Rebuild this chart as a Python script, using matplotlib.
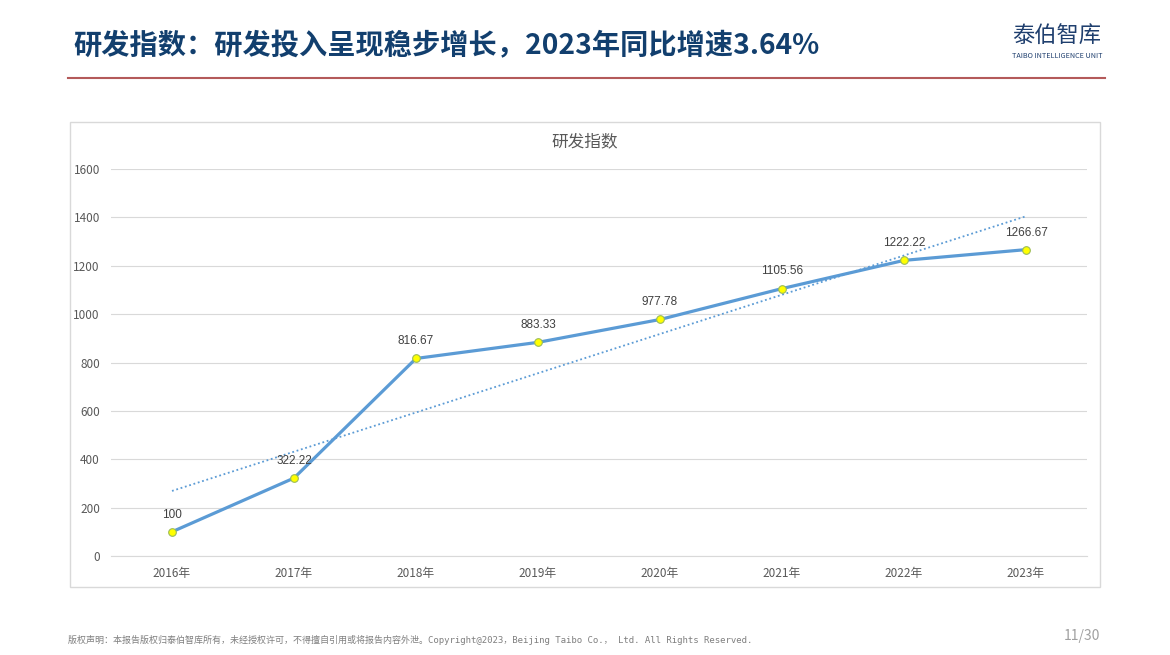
import numpy as np
import matplotlib.pyplot as plt

plt.rcParams['font.family'] = ['Noto Sans CJK SC', 'DejaVu Sans']

# 数据
years = ['2016年', '2017年', '2018年', '2019年', '2020年', '2021年', '2022年', '2023年']
index_values = [100, 322.22, 816.67, 883.33, 977.78, 1105.56, 1222.22, 1266.67]
value_labels = ['100', '322.22', '816.67', '883.33', '977.78', '1105.56', '1222.22', '1266.67']
y_ticks = [0, 200, 400, 600, 800, 1000, 1200, 1400, 1600]

page_title = '研发指数：研发投入呈现稳步增长，2023年同比增速3.64%'
chart_title = '研发指数'
footer = '版权声明：本报告版权归泰伯智库所有，未经授权许可，不得擅自引用或将报告内容外泄。Copyright@2023，Beijing Taibo Co.， Ltd. All Rights Reserved.'
page_no = '11/30'

W, H = 1170, 655
fig = plt.figure(figsize=(W / 100, H / 100), dpi=100)
fig.patch.set_facecolor('white')

# 页眉
fig.text(73 / W, 1 - 46 / H, page_title, fontsize=20.3, fontweight='bold',
         color='#123F6E', va='center', ha='left')
fig.add_artist(plt.Line2D([68 / W, 1105 / W], [1 - 78 / H, 1 - 78 / H],
                          color='#B45A5A', lw=1.5))
fig.text(1057 / W, 1 - 36 / H, '泰伯智库', fontsize=16, color='#1F3F6E',
         ha='center', va='center')
fig.text(1057 / W, 1 - 56 / H, 'TAIBO INTELLIGENCE UNIT', fontsize=5.2,
         color='#1F3F6E', ha='center', va='center')

# 图表外框
box = plt.Rectangle((70 / W, 1 - 587 / H), (1100 - 70) / W, (587 - 122) / H,
                    transform=fig.transFigure, fill=False, ec='#D9D9D9', lw=1)
fig.add_artist(box)
fig.text(585 / W, 1 - 142 / H, chart_title, fontsize=12, color='#595959',
         ha='center', va='center')

ax = fig.add_axes([111 / W, 1 - 556 / H, (1087 - 111) / W, (556 - 169) / H])
x = np.arange(len(years))

# 线性趋势线
k, b = np.polyfit(x, index_values, 1)
ax.plot(x, k * x + b, color='#5B9BD5', lw=1.3, ls=(0, (1, 1.5)), zorder=2)

ax.plot(x, index_values, color='#5B9BD5', lw=2.3, marker='o', markersize=5.5,
        markerfacecolor='#FFFF00', markeredgecolor='#9BBB59', markeredgewidth=0.8,
        zorder=3)

for xi, yi, lab in zip(x, index_values, value_labels):
    ax.annotate(lab, (xi, yi), xytext=(0, 8), textcoords='offset points',
                ha='center', va='bottom', fontsize=8.5, color='#404040',
                family=['Liberation Sans', 'DejaVu Sans'])

ax.set_xlim(-0.5, len(years) - 0.5)
ax.set_ylim(0, 1600)
ax.set_yticks(y_ticks)
ax.set_xticks(x)
ax.set_xticklabels(years)
ax.grid(axis='y', color='#D9D9D9', lw=0.8)
ax.set_axisbelow(True)
for s in ['top', 'right', 'left']:
    ax.spines[s].set_visible(False)
ax.spines['bottom'].set_color('#D9D9D9')
ax.tick_params(length=0, colors='#595959', labelsize=8.5)
ax.tick_params(axis='x', pad=8)
ax.tick_params(axis='y', pad=8)

# 页脚
fig.text(68 / W, 1 - 640 / H, footer, fontsize=6.5, color='#7F7F7F',
         ha='left', va='center', family=['DejaVu Sans Mono', 'Noto Sans CJK SC'])
fig.text(1100 / W, 1 - 636 / H, page_no, fontsize=10, color='#A0A0A0',
         ha='right', va='center')

fig.savefig('out.png', dpi=100)
